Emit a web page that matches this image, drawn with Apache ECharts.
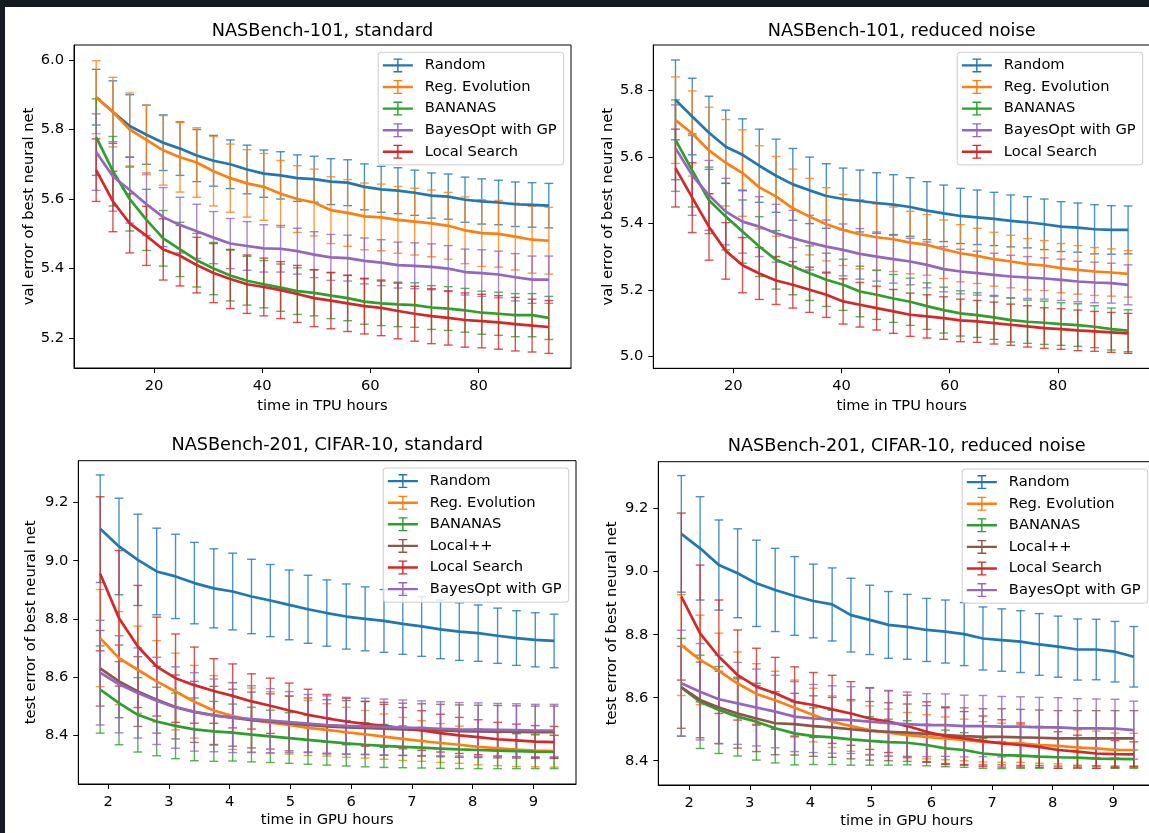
<!DOCTYPE html>
<html>
<head>
  <meta charset="utf-8">
  <title>NASBench error curves</title>
  <script src="https://cdn.jsdelivr.net/npm/echarts@6.0.0/dist/echarts.min.js"></script>
  <style>
    html, body { margin: 0; padding: 0; background: #fff; }
    #main { width: 1149px; height: 833px; }
  </style>
</head>
<body>
<div id="main"></div>
<script>
// x values
var tpuHours = [9.3, 12.4, 15.5, 18.6, 21.7, 24.8, 27.9, 31.0, 34.1, 37.2, 40.3, 43.4, 46.5, 49.6,
  52.7, 55.8, 58.9, 62.0, 65.1, 68.2, 71.3, 74.4, 77.5, 80.6, 83.7, 86.8, 89.9, 93.0];
var gpuHours = [1.87, 2.18, 2.49, 2.80, 3.11, 3.42, 3.74, 4.05, 4.36, 4.67, 4.98, 5.29, 5.60,
  5.92, 6.23, 6.54, 6.85, 7.16, 7.47, 7.78, 8.09, 8.41, 8.72, 9.03, 9.34];

// tick labels
var tpuTicks = [20, 40, 60, 80];
var gpuTicks = [2, 3, 4, 5, 6, 7, 8, 9];
var ticks101std = [5.2, 5.4, 5.6, 5.8, 6.0];
var ticks101low = [5.0, 5.2, 5.4, 5.6, 5.8];
var ticks201 = [8.4, 8.6, 8.8, 9.0, 9.2];

// NASBench-101, standard
var s101Random = [5.893, 5.85, 5.81, 5.785, 5.762, 5.745, 5.725, 5.71, 5.70, 5.685, 5.673, 5.668, 5.660, 5.657,
  5.650, 5.647, 5.635, 5.628, 5.624, 5.618, 5.610, 5.607, 5.598, 5.593, 5.590, 5.585, 5.583, 5.581];
var s101RandomSd = [0.08, 0.09, 0.09, 0.085, 0.08, 0.077, 0.075, 0.073, 0.07, 0.07, 0.068, 0.068, 0.067, 0.066,
  0.066, 0.066, 0.066, 0.066, 0.066, 0.065, 0.065, 0.065, 0.065, 0.065, 0.064, 0.064, 0.064, 0.064];
var s101Evo = [5.893, 5.85, 5.80, 5.77, 5.74, 5.72, 5.705, 5.68, 5.66, 5.645, 5.635, 5.615, 5.60, 5.59,
  5.568, 5.56, 5.55, 5.547, 5.54, 5.535, 5.53, 5.523, 5.51, 5.502, 5.50, 5.492, 5.483, 5.48];
var s101EvoSd = [0.105, 0.1, 0.105, 0.1, 0.1, 0.1, 0.1, 0.1, 0.098, 0.097, 0.096, 0.096, 0.096, 0.096,
  0.096, 0.096, 0.096, 0.096, 0.096, 0.096, 0.096, 0.096, 0.096, 0.096, 0.096, 0.096, 0.096, 0.096];
var s101Bananas = [5.778, 5.68, 5.60, 5.54, 5.487, 5.455, 5.424, 5.40, 5.38, 5.365, 5.355, 5.345, 5.335, 5.33,
  5.322, 5.315, 5.305, 5.30, 5.297, 5.295, 5.288, 5.285, 5.28, 5.273, 5.27, 5.266, 5.266, 5.258];
var s101BananasSd = [0.11, 0.10, 0.092, 0.088, 0.08, 0.078, 0.077, 0.075, 0.073, 0.07, 0.068, 0.068, 0.067, 0.066,
  0.066, 0.065, 0.065, 0.064, 0.064, 0.064, 0.063, 0.063, 0.063, 0.062, 0.062, 0.062, 0.062, 0.062];
var s101Bayes = [5.735, 5.665, 5.626, 5.585, 5.548, 5.525, 5.507, 5.489, 5.472, 5.465, 5.458, 5.457, 5.45, 5.44,
  5.432, 5.43, 5.422, 5.417, 5.41, 5.408, 5.405, 5.40, 5.39, 5.387, 5.383, 5.375, 5.368, 5.368];
var s101BayesSd = [0.11, 0.10, 0.095, 0.09, 0.085, 0.08, 0.078, 0.075, 0.072, 0.07, 0.068, 0.067, 0.066, 0.066,
  0.066, 0.066, 0.066, 0.066, 0.066, 0.066, 0.066, 0.066, 0.066, 0.067, 0.067, 0.068, 0.068, 0.068];
var s101Local = [5.683, 5.593, 5.53, 5.494, 5.455, 5.437, 5.41, 5.387, 5.37, 5.355, 5.347, 5.338, 5.327, 5.315,
  5.308, 5.30, 5.292, 5.287, 5.278, 5.27, 5.263, 5.258, 5.252, 5.249, 5.245, 5.24, 5.236, 5.232];
var s101LocalSd = [0.09, 0.087, 0.085, 0.085, 0.088, 0.087, 0.08, 0.085, 0.085, 0.084, 0.083, 0.082, 0.082, 0.082,
  0.081, 0.081, 0.08, 0.08, 0.08, 0.079, 0.079, 0.078, 0.078, 0.077, 0.077, 0.077, 0.076, 0.076];

// NASBench-101, reduced noise
var r101Random = [5.772, 5.722, 5.673, 5.631, 5.607, 5.574, 5.544, 5.518, 5.50, 5.483, 5.474, 5.468, 5.462, 5.457,
  5.45, 5.439, 5.431, 5.423, 5.419, 5.414, 5.408, 5.404, 5.398, 5.391, 5.388, 5.383, 5.381, 5.381];
var r101RandomSd = [0.12, 0.115, 0.11, 0.11, 0.108, 0.11, 0.11, 0.108, 0.10, 0.097, 0.093, 0.093, 0.091, 0.09,
  0.088, 0.087, 0.085, 0.083, 0.082, 0.08, 0.078, 0.077, 0.076, 0.075, 0.074, 0.074, 0.073, 0.072];
var r101Evo = [5.711, 5.671, 5.62, 5.583, 5.552, 5.509, 5.482, 5.446, 5.421, 5.398, 5.381, 5.368, 5.359, 5.353,
  5.343, 5.336, 5.323, 5.311, 5.303, 5.293, 5.286, 5.278, 5.274, 5.266, 5.261, 5.256, 5.253, 5.249];
var r101EvoSd = [0.13, 0.128, 0.13, 0.13, 0.13, 0.125, 0.12, 0.118, 0.115, 0.11, 0.107, 0.104, 0.1, 0.097,
  0.094, 0.091, 0.088, 0.086, 0.083, 0.081, 0.079, 0.077, 0.075, 0.074, 0.073, 0.072, 0.071, 0.07];
var r101Bananas = [5.652, 5.56, 5.47, 5.421, 5.376, 5.331, 5.291, 5.271, 5.251, 5.231, 5.216, 5.196, 5.186, 5.175,
  5.165, 5.152, 5.14, 5.13, 5.125, 5.118, 5.11, 5.105, 5.102, 5.098, 5.095, 5.09, 5.083, 5.078];
var r101BananasSd = [0.12, 0.11, 0.10, 0.1, 0.095, 0.09, 0.088, 0.085, 0.082, 0.08, 0.077, 0.076, 0.074, 0.072,
  0.071, 0.07, 0.069, 0.068, 0.067, 0.066, 0.066, 0.065, 0.065, 0.064, 0.064, 0.063, 0.063, 0.063];
var r101Bayes = [5.627, 5.545, 5.485, 5.436, 5.406, 5.391, 5.371, 5.356, 5.343, 5.331, 5.321, 5.309, 5.301, 5.293,
  5.286, 5.276, 5.263, 5.256, 5.251, 5.246, 5.241, 5.238, 5.235, 5.231, 5.226, 5.223, 5.221, 5.216];
var r101BayesSd = [0.13, 0.12, 0.105, 0.1, 0.095, 0.09, 0.087, 0.084, 0.082, 0.08, 0.078, 0.076, 0.074, 0.072,
  0.07, 0.069, 0.068, 0.067, 0.066, 0.065, 0.064, 0.063, 0.062, 0.062, 0.061, 0.061, 0.06, 0.06];
var r101Local = [5.567, 5.478, 5.39, 5.318, 5.275, 5.25, 5.229, 5.216, 5.201, 5.186, 5.166, 5.156, 5.146, 5.136,
  5.126, 5.121, 5.116, 5.109, 5.106, 5.101, 5.096, 5.091, 5.086, 5.083, 5.079, 5.076, 5.073, 5.07];
var r101LocalSd = [0.117, 0.105, 0.1, 0.085, 0.083, 0.078, 0.072, 0.07, 0.068, 0.068, 0.068, 0.067, 0.066, 0.066,
  0.065, 0.065, 0.064, 0.064, 0.063, 0.063, 0.062, 0.062, 0.061, 0.061, 0.061, 0.06, 0.06, 0.06];

// NASBench-201, CIFAR-10, standard
var s201Random = [9.11, 9.049, 9.003, 8.963, 8.946, 8.923, 8.905, 8.894, 8.877, 8.863, 8.848, 8.833, 8.82,
  8.808, 8.80, 8.793, 8.783, 8.774, 8.764, 8.756, 8.751, 8.742, 8.734, 8.728, 8.724];
var s201RandomSd = [0.185, 0.166, 0.157, 0.149, 0.145, 0.14, 0.136, 0.132, 0.128, 0.124, 0.12, 0.117, 0.114,
  0.112, 0.11, 0.108, 0.105, 0.103, 0.101, 0.099, 0.097, 0.095, 0.094, 0.093, 0.092];
var s201Evo = [8.734, 8.665, 8.625, 8.585, 8.55, 8.515, 8.485, 8.466, 8.452, 8.443, 8.435, 8.425, 8.418,
  8.41, 8.403, 8.395, 8.387, 8.38, 8.373, 8.367, 8.36, 8.355, 8.35, 8.347, 8.345];
var s201EvoSd = [0.167, 0.16, 0.15, 0.14, 0.132, 0.125, 0.12, 0.115, 0.11, 0.106, 0.1, 0.095, 0.09,
  0.086, 0.082, 0.078, 0.074, 0.07, 0.067, 0.064, 0.062, 0.06, 0.058, 0.056, 0.055];
var s201Bananas = [8.557, 8.51, 8.47, 8.447, 8.432, 8.42, 8.413, 8.409, 8.402, 8.396, 8.39, 8.384, 8.378,
  8.372, 8.367, 8.363, 8.36, 8.357, 8.354, 8.351, 8.349, 8.347, 8.345, 8.343, 8.342];
var s201BananasSd = [0.15, 0.143, 0.128, 0.118, 0.113, 0.108, 0.103, 0.098, 0.094, 0.09, 0.087, 0.084, 0.081,
  0.078, 0.076, 0.074, 0.072, 0.07, 0.068, 0.066, 0.064, 0.062, 0.06, 0.058, 0.057];
var s201LocalPP = [8.63, 8.585, 8.55, 8.522, 8.497, 8.48, 8.468, 8.46, 8.452, 8.447, 8.44, 8.435, 8.43,
  8.427, 8.425, 8.422, 8.42, 8.418, 8.416, 8.414, 8.413, 8.412, 8.411, 8.41, 8.41];
var s201LocalPPSd = [0.13, 0.125, 0.12, 0.115, 0.11, 0.105, 0.1, 0.098, 0.096, 0.095, 0.094, 0.093, 0.092,
  0.092, 0.091, 0.091, 0.09, 0.09, 0.09, 0.09, 0.09, 0.09, 0.09, 0.09, 0.09];
var s201Local = [8.955, 8.802, 8.705, 8.636, 8.596, 8.572, 8.552, 8.535, 8.516, 8.501, 8.485, 8.47, 8.458,
  8.447, 8.439, 8.432, 8.424, 8.416, 8.407, 8.399, 8.393, 8.386, 8.382, 8.378, 8.376];
var s201LocalSd = [0.265, 0.233, 0.21, 0.17, 0.152, 0.131, 0.111, 0.11, 0.095, 0.095, 0.094, 0.088, 0.082,
  0.08, 0.077, 0.074, 0.071, 0.068, 0.065, 0.062, 0.06, 0.058, 0.056, 0.055, 0.054];
var s201Bayes = [8.615, 8.575, 8.545, 8.518, 8.495, 8.48, 8.468, 8.46, 8.455, 8.45, 8.445, 8.44, 8.435,
  8.432, 8.43, 8.428, 8.426, 8.424, 8.422, 8.42, 8.419, 8.418, 8.417, 8.416, 8.416];
var s201BayesSd = [0.18, 0.167, 0.155, 0.15, 0.14, 0.135, 0.125, 0.12, 0.115, 0.11, 0.105, 0.1, 0.1,
  0.098, 0.097, 0.096, 0.095, 0.094, 0.093, 0.092, 0.092, 0.091, 0.091, 0.09, 0.09];

// NASBench-201, CIFAR-10, reduced noise
var r201Random = [9.12, 9.074, 9.021, 8.995, 8.963, 8.942, 8.923, 8.907, 8.896, 8.862, 8.847, 8.831, 8.825,
  8.815, 8.81, 8.802, 8.788, 8.783, 8.778, 8.769, 8.762, 8.753, 8.753, 8.746, 8.73];
var r201RandomSd = [0.185, 0.164, 0.143, 0.141, 0.137, 0.132, 0.125, 0.117, 0.116, 0.117, 0.11, 0.106, 0.103,
  0.1, 0.1, 0.1, 0.1, 0.099, 0.098, 0.098, 0.097, 0.097, 0.096, 0.096, 0.096];
var r201Evo = [8.767, 8.72, 8.685, 8.645, 8.612, 8.592, 8.568, 8.545, 8.524, 8.51, 8.497, 8.489, 8.481,
  8.476, 8.471, 8.466, 8.46, 8.457, 8.455, 8.45, 8.447, 8.442, 8.439, 8.434, 8.434];
var r201EvoSd = [0.16, 0.142, 0.12, 0.1, 0.096, 0.092, 0.088, 0.085, 0.082, 0.08, 0.077, 0.075, 0.072,
  0.07, 0.068, 0.066, 0.064, 0.062, 0.06, 0.058, 0.057, 0.056, 0.055, 0.054, 0.053];
var r201Bananas = [8.633, 8.587, 8.561, 8.54, 8.524, 8.503, 8.487, 8.478, 8.474, 8.468, 8.463, 8.459, 8.457,
  8.45, 8.439, 8.434, 8.423, 8.418, 8.416, 8.413, 8.411, 8.41, 8.407, 8.406, 8.405];
var r201BananasSd = [0.155, 0.148, 0.138, 0.125, 0.122, 0.11, 0.1, 0.09, 0.086, 0.082, 0.077, 0.073, 0.07,
  0.066, 0.058, 0.055, 0.047, 0.043, 0.04, 0.037, 0.035, 0.033, 0.031, 0.03, 0.029];
var r201LocalPP = [8.633, 8.593, 8.569, 8.55, 8.534, 8.519, 8.516, 8.51, 8.506, 8.50, 8.495, 8.492, 8.489,
  8.485, 8.481, 8.478, 8.476, 8.476, 8.474, 8.473, 8.471, 8.471, 8.471, 8.471, 8.471];
var r201LocalPPSd = [0.13, 0.12, 0.115, 0.11, 0.105, 0.1, 0.098, 0.096, 0.095, 0.094, 0.093, 0.092, 0.091,
  0.09, 0.09, 0.09, 0.089, 0.089, 0.089, 0.088, 0.088, 0.088, 0.088, 0.088, 0.088];
var r201Local = [8.921, 8.804, 8.73, 8.672, 8.635, 8.614, 8.587, 8.577, 8.563, 8.55, 8.534, 8.524, 8.51,
  8.492, 8.478, 8.471, 8.462, 8.455, 8.45, 8.444, 8.434, 8.429, 8.423, 8.421, 8.42];
var r201LocalSd = [0.265, 0.217, 0.18, 0.143, 0.122, 0.114, 0.111, 0.103, 0.108, 0.101, 0.098, 0.098, 0.098,
  0.095, 0.09, 0.085, 0.08, 0.075, 0.07, 0.065, 0.058, 0.052, 0.047, 0.043, 0.04];
var r201Bayes = [8.646, 8.619, 8.595, 8.582, 8.569, 8.556, 8.54, 8.534, 8.531, 8.529, 8.524, 8.519, 8.516,
  8.513, 8.513, 8.51, 8.51, 8.508, 8.508, 8.506, 8.506, 8.503, 8.503, 8.502, 8.497];
var r201BayesSd = [0.168, 0.153, 0.14, 0.13, 0.122, 0.115, 0.111, 0.108, 0.107, 0.106, 0.106, 0.104, 0.102,
  0.1, 0.099, 0.098, 0.097, 0.096, 0.095, 0.095, 0.094, 0.094, 0.093, 0.093, 0.092];

var colors = {
  'Random': '#1f77b4',
  'Reg. Evolution': '#ff7f0e',
  'BANANAS': '#2ca02c',
  'Local++': '#8c564b',
  'Local Search': '#d62728',
  'BayesOpt with GP': '#9467bd'
};

var font = 'DejaVu Sans';
// legend handle: line with an error bar through it
var errIcon = 'path://M0,5.8H30V8.2H0Z M14.3,0H15.7V14H14.3Z M10.6,0H19.4V1.3H10.6Z M10.6,12.7H19.4V14H10.6Z';

var panels = [
  {
    title: 'NASBench-101, standard', x: tpuHours, xTicks: tpuTicks, yTicks: ticks101std,
    xName: 'time in TPU hours', yName: 'val error of best neural net',
    grid: [74, 45, 497, 323], xRange: [5.2, 97.1], yRange: [5.114, 6.043],
    titleY: 31, xGap: 30.5, yGap: 37.5, legendRight: 585.3, legendTop: 52.3,
    methods: [
      ['Random', s101Random, s101RandomSd],
      ['Reg. Evolution', s101Evo, s101EvoSd],
      ['BANANAS', s101Bananas, s101BananasSd],
      ['BayesOpt with GP', s101Bayes, s101BayesSd],
      ['Local Search', s101Local, s101LocalSd]
    ]
  },
  {
    title: 'NASBench-101, reduced noise', x: tpuHours, xTicks: tpuTicks, yTicks: ticks101low,
    xName: 'time in TPU hours', yName: 'val error of best neural net',
    grid: [653.3, 45, 496.7, 323.3], xRange: [5.2, 97.05], yRange: [4.965, 5.937],
    titleY: 31, xGap: 30.5, yGap: 37.5, legendRight: 6.3, legendTop: 52.3,
    methods: [
      ['Random', r101Random, r101RandomSd],
      ['Reg. Evolution', r101Evo, r101EvoSd],
      ['BANANAS', r101Bananas, r101BananasSd],
      ['BayesOpt with GP', r101Bayes, r101BayesSd],
      ['Local Search', r101Local, r101LocalSd]
    ]
  },
  {
    title: 'NASBench-201, CIFAR-10, standard', x: gpuHours, xTicks: gpuTicks, yTicks: ticks201,
    xName: 'time in GPU hours', yName: 'test error of best neural net',
    grid: [78.3, 460.7, 497.7, 323.3], xRange: [1.51, 9.70], yRange: [8.232, 9.344],
    titleY: 445.6, xGap: 29, yGap: 40, legendRight: 580.3, legendTop: 468,
    methods: [
      ['Random', s201Random, s201RandomSd],
      ['Reg. Evolution', s201Evo, s201EvoSd],
      ['BANANAS', s201Bananas, s201BananasSd],
      ['Local++', s201LocalPP, s201LocalPPSd],
      ['Local Search', s201Local, s201LocalSd],
      ['BayesOpt with GP', s201Bayes, s201BayesSd]
    ]
  },
  {
    title: 'NASBench-201, CIFAR-10, reduced noise', x: gpuHours, xTicks: gpuTicks, yTicks: ticks201,
    xName: 'time in GPU hours', yName: 'test error of best neural net',
    grid: [658.3, 461.7, 496.7, 323.3], xRange: [1.49, 9.69], yRange: [8.323, 9.349],
    titleY: 446.5, xGap: 29, yGap: 38.5, legendRight: 1.3, legendTop: 469,
    methods: [
      ['Random', r201Random, r201RandomSd],
      ['Reg. Evolution', r201Evo, r201EvoSd],
      ['BANANAS', r201Bananas, r201BananasSd],
      ['Local++', r201LocalPP, r201LocalPPSd],
      ['Local Search', r201Local, r201LocalSd],
      ['BayesOpt with GP', r201Bayes, r201BayesSd]
    ]
  }
];

// vertical bar from mean-sd to mean+sd with caps
function renderErrorBar(params, api) {
  var x = api.value(0), m = api.value(1), s = api.value(2);
  var hi = api.coord([x, m + s]);
  var lo = api.coord([x, m - s]);
  var cap = 4.4;
  var style = { stroke: api.visual('color'), lineWidth: 1.4, opacity: 0.8 };
  return {
    type: 'group',
    children: [
      { type: 'line', shape: { x1: hi[0], y1: hi[1], x2: lo[0], y2: lo[1] }, style: style },
      { type: 'line', shape: { x1: hi[0] - cap, y1: hi[1], x2: hi[0] + cap, y2: hi[1] }, style: style },
      { type: 'line', shape: { x1: lo[0] - cap, y1: lo[1], x2: lo[0] + cap, y2: lo[1] }, style: style }
    ]
  };
}

var tickText = { fontFamily: font, fontSize: 14.7, color: '#000', lineHeight: 15 };

var grids = [], xAxes = [], yAxes = [], titles = [], legends = [], series = [];

panels.forEach(function (p, idx) {
  grids.push({
    left: p.grid[0], top: p.grid[1], width: p.grid[2], height: p.grid[3],
    show: true, borderColor: '#000', borderWidth: 1, backgroundColor: 'transparent',
    containLabel: false, outerBoundsMode: 'none'
  });
  xAxes.push({
    gridIndex: idx, type: 'value', min: p.xRange[0], max: p.xRange[1],
    name: p.xName, nameLocation: 'middle', nameGap: p.xGap,
    nameTextStyle: { fontFamily: font, fontSize: 14.7, color: '#000', lineHeight: 15 },
    axisLine: { show: true, onZero: false, lineStyle: { color: '#000', width: 1 } },
    axisTick: { show: true, length: 5, customValues: p.xTicks, lineStyle: { color: '#000', width: 1 } },
    axisLabel: Object.assign({ customValues: p.xTicks, margin: 10.5 }, tickText),
    splitLine: { show: false }
  });
  yAxes.push({
    gridIndex: idx, type: 'value', min: p.yRange[0], max: p.yRange[1],
    name: p.yName, nameLocation: 'middle', nameGap: p.yGap,
    nameTextStyle: { fontFamily: font, fontSize: 14.7, color: '#000', lineHeight: 15 },
    axisLine: { show: true, onZero: false, lineStyle: { color: '#000', width: 1 } },
    axisTick: { show: true, length: 5, customValues: p.yTicks, lineStyle: { color: '#000', width: 1 } },
    axisLabel: Object.assign({
      customValues: p.yTicks, margin: 10,
      formatter: function (v) { return v.toFixed(1); }
    }, tickText),
    splitLine: { show: false }
  });
  titles.push({
    text: p.title, left: p.grid[0] + p.grid[2] / 2, top: p.titleY,
    textAlign: 'center', textVerticalAlign: 'middle', padding: 0,
    textStyle: { fontFamily: font, fontSize: 17.7, fontWeight: 'normal', color: '#000' }
  });
  legends.push({
    orient: 'vertical', right: p.legendRight, top: p.legendTop,
    itemWidth: 30, itemHeight: 14, itemGap: 6.6,
    padding: [5.6, 7, 5.6, 4.7],
    backgroundColor: 'rgba(255,255,255,0.8)', borderColor: '#cccccc', borderWidth: 1, borderRadius: 3,
    selectedMode: false,
    textStyle: { fontFamily: font, fontSize: 14.7, color: '#000', lineHeight: 14, padding: [0, 0, 0, 7] },
    data: p.methods.map(function (m) {
      return { name: m[0], icon: errIcon, itemStyle: { color: colors[m[0]], borderWidth: 0 } };
    })
  });
  p.methods.forEach(function (m) {
    var name = m[0], mean = m[1], sd = m[2], color = colors[name];
    series.push({
      type: 'custom', name: name, xAxisIndex: idx, yAxisIndex: idx,
      itemStyle: { color: color }, silent: true, clip: false,
      encode: { x: 0, y: 1 },
      renderItem: renderErrorBar,
      data: p.x.map(function (x, i) { return [x, mean[i], sd[i]]; })
    });
    series.push({
      type: 'line', name: name, xAxisIndex: idx, yAxisIndex: idx,
      showSymbol: false, symbol: 'none', silent: true, clip: false,
      lineStyle: { color: color, width: 2.7 }, itemStyle: { color: color },
      emphasis: { disabled: true },
      data: p.x.map(function (x, i) { return [x, mean[i]]; })
    });
  });
});

var chart = echarts.init(document.getElementById('main'));
chart.setOption({
  animation: false,
  backgroundColor: '#ffffff',
  tooltip: { show: false },
  graphic: [
    { type: 'rect', shape: { x: 0, y: 0, width: 1149, height: 7 }, style: { fill: '#161b22' }, silent: true },
    { type: 'rect', shape: { x: 0, y: 0, width: 5, height: 833 }, style: { fill: '#161b22' }, silent: true }
  ],
  title: titles,
  legend: legends,
  grid: grids,
  xAxis: xAxes,
  yAxis: yAxes,
  series: series
});
</script>
</body>
</html>
